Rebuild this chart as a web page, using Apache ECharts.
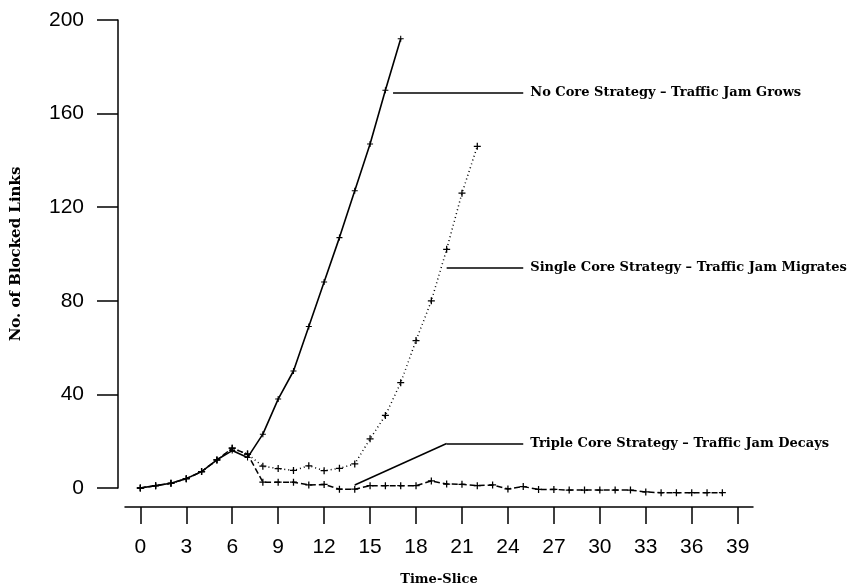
<!DOCTYPE html>
<html>
<head>
<meta charset="utf-8">
<script src="https://cdn.jsdelivr.net/npm/echarts@6/dist/echarts.min.js"></script>
<style>
  html, body { margin: 0; padding: 0; background: #fff; }
  #chart { width: 855px; height: 588px; }
</style>
</head>
<body>
<div id="chart"></div>
<script>
// time-slice tick values
var tickValues = [0, 3, 6, 9, 12, 15, 18, 21, 24, 27, 30, 33, 36, 39];

// No Core Strategy (t = 0..17)
var noCore = [0, 1, 2, 4, 7, 12, 16, 13, 23, 38, 50, 69, 88, 107, 127, 147, 170, 192];

// Single Core Strategy (t = 0..22)
var singleCore = [0, 1, 2, 4, 7, 12, 17, 14.5, 9.3, 8.3, 7.5, 9.5, 7.4, 8.4, 10.3, 21, 31, 45, 63, 80, 102, 126, 146];

// Triple Core Strategy (t = 0..38)
var tripleCore = [0, 1, 2, 4, 7, 12, 17, 14.5, 2.5, 2.5, 2.5, 1.3, 1.5, -0.5, -0.5, 1, 1, 1, 1, 3, 1.7, 1.6, 1,
    1.3, -0.4, 0.6, -0.6, -0.6, -0.9, -0.9, -0.9, -0.9, -0.9, -1.7, -2, -2, -2, -2, -2];

function toPairs(arr) {
    var out = [];
    for (var i = 0; i < arr.length; i++) out.push([i, arr[i]]);
    return out;
}

var plus = 'path://M-0.9,-5H0.9V-0.9H5V0.9H0.9V5H-0.9V0.9H-5V-0.9H-0.9Z';

function leader(points, text) {
    // leader line made of segments, the text sits after the last point
    var data = [];
    for (var i = 0; i < points.length - 1; i++) {
        var seg = [{ coord: points[i] }, { coord: points[i + 1] }];
        if (i === points.length - 2) {
            seg[0].label = { show: true, position: 'end', formatter: text, distance: 7,
                fontFamily: 'DejaVu Serif', fontWeight: 'bold', fontSize: 13, color: '#000' };
        } else {
            seg[0].label = { show: false };
        }
        data.push(seg);
    }
    return {
        silent: true,
        symbol: ['none', 'none'],
        lineStyle: { color: '#000', width: 1.5, type: 'solid' },
        label: { show: false },
        emphasis: { disabled: true },
        data: data
    };
}

var myChart = echarts.init(document.getElementById('chart'));
var option = {
    animation: false,
    backgroundColor: '#fff',
    grid: { left: 125, right: 102, top: 20, bottom: 100, outerBoundsMode: 'none' },
    xAxis: {
        type: 'value',
        min: -1,
        max: 40,
        offset: 19,
        name: 'Time-Slice',
        nameLocation: 'middle',
        nameGap: 66,
        nameTextStyle: { fontFamily: 'DejaVu Serif', fontWeight: 'bold', fontSize: 13, color: '#000' },
        axisLine: { onZero: false, lineStyle: { color: '#000', width: 1.5 } },
        axisTick: { customValues: tickValues, length: 17, lineStyle: { color: '#000', width: 1.5 } },
        axisLabel: { customValues: tickValues, margin: 30, fontFamily: 'Liberation Sans', fontSize: 21, color: '#000' },
        splitLine: { show: false }
    },
    yAxis: {
        type: 'value',
        min: 0,
        max: 200,
        interval: 40,
        offset: 7,
        name: 'No. of Blocked Links',
        nameLocation: 'middle',
        nameRotate: 90,
        nameGap: 94,
        nameTextStyle: { fontFamily: 'DejaVu Serif', fontWeight: 'bold', fontSize: 15, color: '#000' },
        axisLine: { show: true, onZero: false, lineStyle: { color: '#000', width: 1.5 } },
        axisTick: { show: true, length: 21, lineStyle: { color: '#000', width: 1.5 } },
        axisLabel: { margin: 34, fontFamily: 'Liberation Sans', fontSize: 21, color: '#000' },
        splitLine: { show: false }
    },
    series: [
        {
            name: 'Triple Core Strategy',
            type: 'line',
            clip: false,
            data: toPairs(tripleCore),
            symbol: plus,
            symbolSize: 7,
            itemStyle: { color: '#000' },
            lineStyle: { color: '#000', width: 1.5, type: [6, 3] },
            markLine: leader([[14, 1.3], [20, 19], [25, 19]], 'Triple Core Strategy \u2013 Traffic Jam Decays')
        },
        {
            name: 'Single Core Strategy',
            type: 'line',
            clip: false,
            data: toPairs(singleCore),
            symbol: plus,
            symbolSize: 7,
            itemStyle: { color: '#000' },
            lineStyle: { color: '#000', width: 1.5, type: [1, 3] },
            markLine: leader([[20, 94], [25, 94]], 'Single Core Strategy \u2013 Traffic Jam Migrates')
        },
        {
            name: 'No Core Strategy',
            type: 'line',
            clip: false,
            data: toPairs(noCore),
            symbol: plus,
            symbolSize: 6,
            itemStyle: { color: '#000' },
            lineStyle: { color: '#000', width: 1.6, type: 'solid' },
            markLine: leader([[16.5, 169], [25, 169]], 'No Core Strategy \u2013 Traffic Jam Grows')
        }
    ]
};
if (option && typeof option === "object") {
    myChart.setOption(option, true);
}
</script>
</body>
</html>
